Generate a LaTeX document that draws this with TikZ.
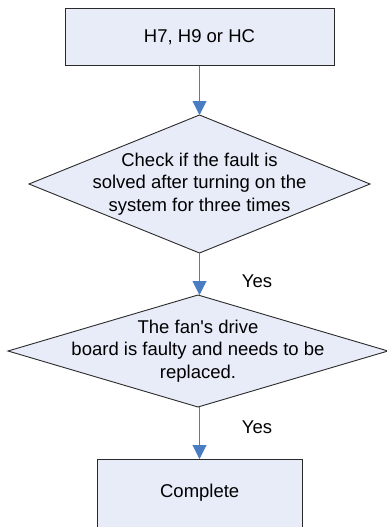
\documentclass[tikz,border=0pt]{standalone}
\usepackage{fontspec}
\setmainfont{Liberation Sans}[Ligatures=TeXOff]
\usetikzlibrary{shapes.geometric,arrows.meta}
\definecolor{boxfill}{HTML}{E8ECF8}
\definecolor{arrowblue}{HTML}{4A7CC4}
\definecolor{edge}{HTML}{2A2A2A}
\begin{document}
\begin{tikzpicture}[x=1pt,y=1pt,
  procbox/.style={draw=edge,line width=0.9pt,fill=boxfill,rectangle,inner sep=0pt,outer sep=0pt},
  decbox/.style={draw=edge,line width=0.9pt,fill=boxfill,diamond,inner sep=0pt,outer sep=0pt},
  txt/.style={align=center,font=\fontsize{18.5}{22.3}\selectfont,inner sep=0pt},
  arr/.style={draw=arrowblue,line width=1pt,-{Triangle[width=14pt,length=14pt]},arrowblue},
  yeslbl/.style={font=\fontsize{18.5}{22.3}\selectfont,inner sep=0pt}]
\useasboundingbox (0,0) rectangle (386,-527);
\node[procbox,minimum width=269pt,minimum height=57.5pt] (b1) at (199.5,-37) {};
\node[txt] (t1) at (b1) {H7, H9 or HC};
\node[decbox,minimum width=341pt,minimum height=138pt] (d1) at (199.5,-184) {};
\node[txt] (t2) at (d1) {Check if the fault is\\solved after turning on the\\system for three times};
\node[decbox,minimum width=380pt,minimum height=112pt] (d2) at (198,-351) {};
\node[txt] (t3) at (d2) {The fan's drive\\board is faulty and needs to be\\replaced.};
\node[procbox,minimum width=205pt,minimum height=70pt,anchor=north] (b2) at (199.7,-459) {};
\node[txt] (t4) at (199.7,-493) {Complete};
\draw[arr] (b1.south) -- (d1.north);
\draw[arr] (d1.south) -- (d2.north -| d1.south);
\draw[arr] (d2.south -| d1.south) -- (b2.north -| d1.south);
\node[yeslbl] (y1) at (257,-281.5) {Yes};
\node[yeslbl] (y2) at (257,-427.5) {Yes};
\end{tikzpicture}
\end{document}
